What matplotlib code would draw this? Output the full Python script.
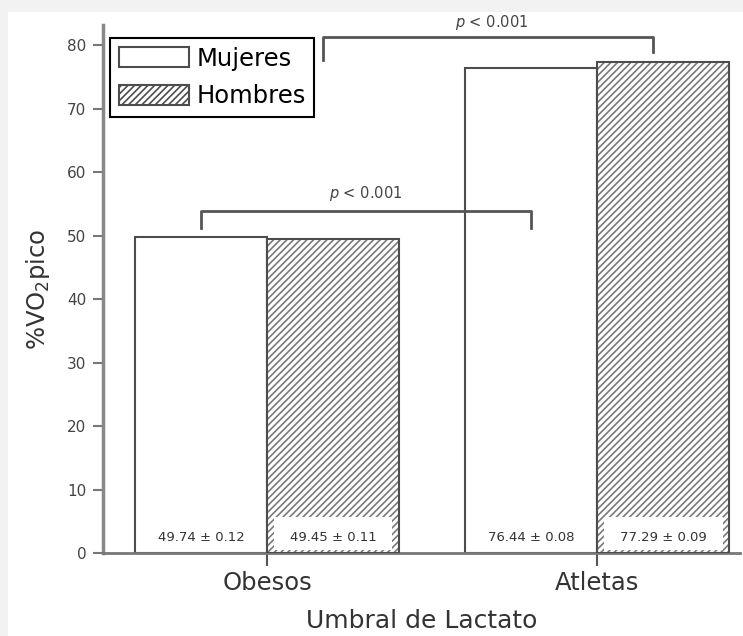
import numpy as np
import matplotlib
matplotlib.use("Agg")
import matplotlib.pyplot as plt
from matplotlib.patches import Rectangle, Patch

# data
groups = ["Obesos", "Atletas"]
series = ["Mujeres", "Hombres"]
mujeres = [49.74, 76.44]
hombres = [49.45, 77.29]
mujeres_sd = [0.12, 0.08]
hombres_sd = [0.11, 0.09]
yticks = [0, 10, 20, 30, 40, 50, 60, 70, 80]

plt.rcParams['font.family'] = ['DejaVu Sans']
plt.rcParams['hatch.linewidth'] = 1.2

fig = plt.figure(figsize=(7.43, 6.36), dpi=100, facecolor='#f2f2f2')
# white panel with light grey frame on the left/top
fig.patches.append(Rectangle((8 / 743, 0), 1, 1 - 12 / 636, transform=fig.transFigure,
                             facecolor='white', edgecolor='none', zorder=-10))

ax = fig.add_axes([103 / 743, 1 - 553 / 636, 637 / 743, 528 / 636])
ax.set_facecolor('none')
ax.set_zorder(1)

x = np.arange(len(groups))
w = 0.4
edge = '#4d4d4d'
hatch_col = '#7a7a7a'

ax.bar(x - w / 2, mujeres, w, facecolor='white', edgecolor=edge, linewidth=1.5, zorder=2)
# hatched bars: hatch in lighter grey, outline drawn on top
ax.bar(x + w / 2, hombres, w, facecolor='white', edgecolor=hatch_col, linewidth=0,
       hatch='/////', zorder=2)
ax.bar(x + w / 2, hombres, w, fill=False, edgecolor=edge, linewidth=1.5, zorder=3.5)

# value labels at the bottom of each bar
for i in range(len(groups)):
    ax.text(x[i] - w / 2, 2.5, f"{mujeres[i]:.2f} ± {mujeres_sd[i]:.2f}",
            ha='center', va='center', fontsize=9.5, color='#333333', zorder=4)
    ax.add_patch(Rectangle((x[i] + 0.02, 0.45), w - 0.04, 5.2, facecolor='white',
                           edgecolor='none', zorder=3))
    ax.text(x[i] + w / 2, 2.5, f"{hombres[i]:.2f} ± {hombres_sd[i]:.2f}",
            ha='center', va='center', fontsize=9.5, color='#333333', zorder=4)

# significance brackets
bcol = '#555555'
# Obesos vs Atletas (mujeres)
ax.plot([x[0] - w / 2, x[0] - w / 2, x[1] - w / 2, x[1] - w / 2],
        [51.2, 53.9, 53.9, 51.2], color=bcol, lw=2, zorder=5, clip_on=False)
ax.text(0.3, 56.6, r"$\it{p}$ < 0.001", ha='center', va='center', fontsize=10.5,
        color='#444444')
# top bracket (hombres)
ax.plot([x[0] + 0.17, x[0] + 0.17, x[1] + 0.17, x[1] + 0.17],
        [77.6, 81.3, 81.3, 78.9], color=bcol, lw=2, zorder=5, clip_on=False)
ax.text(0.68, 83.6, r"$\it{p}$ < 0.001", ha='center', va='center', fontsize=10.5,
        color='#444444', clip_on=False)

ax.set_xlim(-0.497, 1.433)
ax.set_ylim(0, 83.15)
ax.set_yticks(yticks)
ax.set_yticklabels([str(t) for t in yticks])
ax.set_xticks(x)
ax.set_xticklabels(groups)

for s in ['top', 'right']:
    ax.spines[s].set_visible(False)
ax.spines['left'].set_color('#888888')
ax.spines['left'].set_linewidth(2.5)
ax.spines['bottom'].set_color('#777777')
ax.spines['bottom'].set_linewidth(2)

ax.tick_params(axis='y', direction='out', length=7, width=1.5, color='#777777',
               labelsize=11, labelcolor='#444444', pad=5)
ax.tick_params(axis='x', direction='out', length=9, width=1.5, color='#555555',
               labelsize=17.5, labelcolor='#333333', pad=4)

ax.set_ylabel("%VO$_2$pico", fontsize=17.5, color='#333333', labelpad=11)
ax.set_xlabel("Umbral de Lactato", fontsize=18, color='#333333', labelpad=10)

handles = [Patch(facecolor='white', edgecolor=edge, linewidth=1.5),
           Patch(facecolor='white', edgecolor=edge, linewidth=1.5, hatch='/////')]
leg = ax.legend(handles, series, loc='upper left', bbox_to_anchor=(0.011, 0.975),
                borderaxespad=0, fontsize=17.5, fancybox=False, framealpha=1,
                edgecolor='black', handlelength=2.9, handleheight=0.9,
                handletextpad=0.3, borderpad=0.35, labelspacing=0.55)
leg.get_frame().set_linewidth(1.5)
leg.set_zorder(6)

fig.savefig("out.png", dpi=100, facecolor=fig.get_facecolor())
